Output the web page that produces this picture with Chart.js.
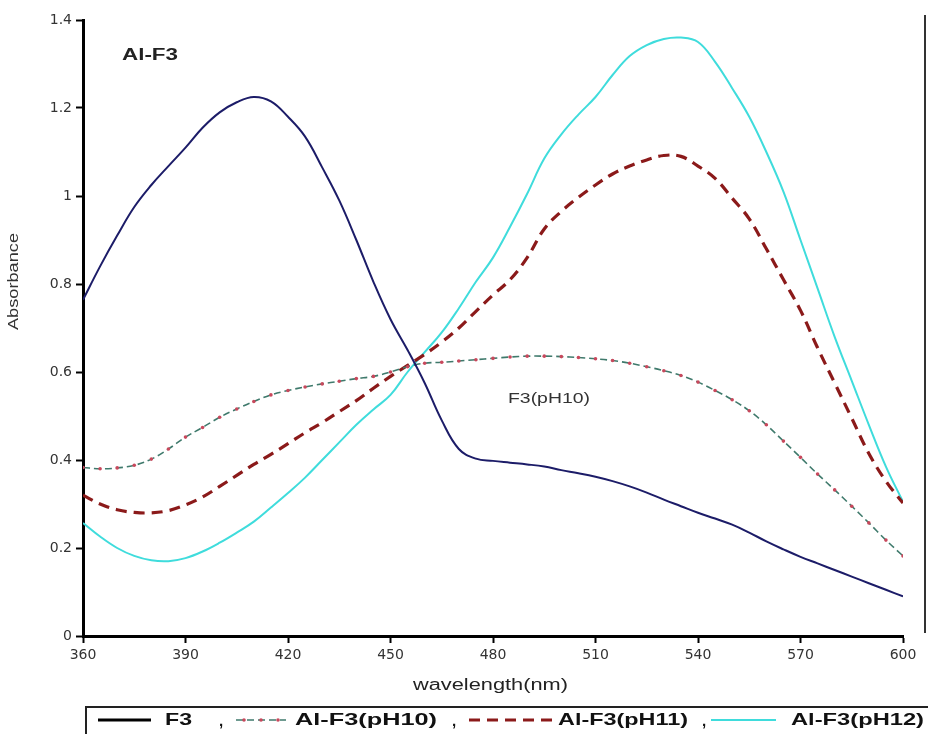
<!DOCTYPE html>
<html>
<head>
<meta charset="utf-8">
<script src="https://cdn.jsdelivr.net/npm/chart.js@4.4.0/dist/chart.umd.min.js"></script>
<style>
  html, body { margin: 0; padding: 0; background: #fff; }
  #wrap { width: 928px; height: 734px; position: relative; }
</style>
</head>
<body>
<div id="wrap"><canvas id="chart"></canvas></div>
<script>
// Wavelengths (nm), 5 nm steps
const wavelengths = [
  360, 365, 370, 375, 380, 385, 390, 395, 400, 405, 410, 415, 420, 425, 430, 435, 440,
  445, 450, 455, 460, 465, 470, 475, 480, 485, 490, 495, 500, 505, 510, 515, 520,
  525, 530, 535, 540, 545, 550, 555, 560, 565, 570, 575, 580, 585, 590, 595, 600
];

const f3 = [
  0.764, 0.84, 0.91, 0.975, 1.025, 1.068, 1.11, 1.155, 1.19, 1.213, 1.225, 1.215, 1.18, 1.135, 1.065, 0.99, 0.9,
  0.805, 0.72, 0.65, 0.575, 0.49, 0.425, 0.403, 0.398, 0.394, 0.39, 0.385, 0.377, 0.37, 0.362, 0.352, 0.34,
  0.326, 0.31, 0.295, 0.28, 0.267, 0.253, 0.235, 0.215, 0.197, 0.18, 0.165, 0.15, 0.135, 0.12, 0.105, 0.09
];

const alF3pH10 = [
  0.383, 0.38, 0.382, 0.388, 0.402, 0.425, 0.452, 0.474, 0.497, 0.516, 0.533, 0.548, 0.558, 0.566, 0.573, 0.579, 0.585,
  0.59, 0.6, 0.612, 0.62, 0.622, 0.625, 0.628, 0.631, 0.634, 0.636, 0.636, 0.635, 0.633, 0.63, 0.626, 0.62,
  0.612, 0.603, 0.592, 0.577, 0.558, 0.537, 0.512, 0.48, 0.443, 0.406, 0.368, 0.332, 0.295, 0.257, 0.218, 0.182
];

const alF3pH11 = [
  0.32, 0.3, 0.287, 0.281, 0.28, 0.285, 0.298, 0.316, 0.34, 0.365, 0.39, 0.413, 0.437, 0.462, 0.485, 0.51, 0.535,
  0.563, 0.59, 0.615, 0.64, 0.668, 0.7, 0.738, 0.775, 0.81, 0.86, 0.925, 0.965, 0.997, 1.025, 1.05, 1.068,
  1.082, 1.092, 1.09, 1.068, 1.04, 0.995, 0.948, 0.88, 0.81, 0.74, 0.655, 0.575, 0.495, 0.415, 0.352, 0.302
];

const alF3pH12 = [
  0.257, 0.226, 0.2, 0.182, 0.172, 0.17, 0.177, 0.192, 0.212, 0.235, 0.26, 0.292, 0.325, 0.36, 0.4, 0.44, 0.48,
  0.515, 0.548, 0.6, 0.645, 0.69, 0.745, 0.805, 0.86, 0.93, 1.005, 1.085, 1.14, 1.185, 1.225, 1.275, 1.318,
  1.343, 1.357, 1.36, 1.35, 1.305, 1.245, 1.18, 1.1, 1.01, 0.9, 0.79, 0.68, 0.58, 0.48, 0.385, 0.305
];

const seriesLabels = ["F3", "Al-F3(pH10)", "Al-F3(pH11)", "Al-F3(pH12)"];

const xMin = 360, xMax = 600, xStep = 30;
const yMin = 0, yMax = 1.4, yStep = 0.2;

function toPoints(values) {
  return values.map((v, i) => ({ x: wavelengths[i], y: v }));
}

// draw text stretched to a given width (the source picture is wide)
function wideText(ctx, text, left, midY, width, font, color) {
  ctx.save();
  ctx.font = font;
  ctx.fillStyle = color;
  ctx.textBaseline = "middle";
  ctx.textAlign = "left";
  const w = ctx.measureText(text).width;
  ctx.translate(left, midY);
  ctx.scale(width / w, 1);
  ctx.fillText(text, 0, 0);
  ctx.restore();
}

const extras = {
  id: "extras",
  afterDraw(chart) {
    const ctx = chart.ctx;
    const area = chart.chartArea;

    // right frame line
    ctx.save();
    ctx.strokeStyle = "#333";
    ctx.lineWidth = 2;
    ctx.beginPath();
    ctx.moveTo(925, 15);
    ctx.lineTo(925, area.bottom - 3);
    ctx.stroke();
    ctx.restore();

    // annotations
    wideText(ctx, "Al-F3", 122, 56, 56, "bold 16px 'Liberation Sans'", "#222");
    wideText(ctx, "F3(pH10)", 508, 399, 82, "14px 'Liberation Sans'", "#333");

    // axis titles
    wideText(ctx, "wavelength(nm)", 413, 686, 155, "16px 'Liberation Sans'", "#222");
    ctx.save();
    ctx.translate(14, 282);
    ctx.rotate(-Math.PI / 2);
    wideText(ctx, "Absorbance", -48, 0, 97, "15px 'Liberation Sans'", "#333");
    ctx.restore();

    // legend box
    ctx.save();
    ctx.strokeStyle = "#222";
    ctx.lineWidth = 2;
    ctx.beginPath();
    ctx.moveTo(86, 740);
    ctx.lineTo(86, 707);
    ctx.lineTo(928, 707);
    ctx.stroke();
    ctx.restore();

    const ds = chart.data.datasets;
    const ly = 720;
    const items = [
      { s: 98, e: 151, t: 165, tw: 27, c: 219 },
      { s: 236, e: 286, t: 295, tw: 142, c: 452 },
      { s: 469, e: 555, t: 558, tw: 130, c: 702 },
      { s: 711, e: 776, t: 791, tw: 133, c: null }
    ];
    items.forEach((it, i) => {
      const d = ds[i];
      ctx.save();
      ctx.strokeStyle = i === 0 ? "#000" : d.borderColor;
      ctx.lineWidth = i === 0 ? 3 : d.borderWidth;
      ctx.setLineDash(d.borderDash || []);
      ctx.beginPath();
      ctx.moveTo(it.s, ly);
      ctx.lineTo(it.e, ly);
      ctx.stroke();
      ctx.setLineDash([]);
      if (d.pointRadius > 0) {
        ctx.fillStyle = d.pointBackgroundColor;
        [it.s + 8, it.s + 25, it.s + 42].forEach(px => {
          ctx.beginPath();
          ctx.arc(px, ly, 1.8, 0, Math.PI * 2);
          ctx.fill();
        });
      }
      ctx.restore();
      wideText(ctx, d.label, it.t, ly, it.tw, "bold 17px 'Liberation Sans'", "#111");
      if (it.c !== null) {
        ctx.save();
        ctx.font = "bold 15px 'Liberation Sans'";
        ctx.fillStyle = "#111";
        ctx.textBaseline = "middle";
        ctx.fillText(",", it.c, ly + 2);
        ctx.restore();
      }
    });
  }
};

const tickFont = { family: "'DejaVu Sans', 'Liberation Sans'", size: 14 };

new Chart(document.getElementById("chart"), {
  type: "line",
  data: {
    datasets: [
      {
        label: seriesLabels[0],
        data: toPoints(f3),
        borderColor: "#1c1c68",
        borderWidth: 2,
        pointRadius: 0,
        tension: 0.4
      },
      {
        label: seriesLabels[1],
        data: toPoints(alF3pH10),
        borderColor: "#3f7a6c",
        borderWidth: 1.6,
        borderDash: [7, 4],
        pointRadius: 1.8,
        pointBackgroundColor: "#c8485c",
        pointBorderColor: "#c8485c",
        pointBorderWidth: 0,
        tension: 0.4
      },
      {
        label: seriesLabels[2],
        data: toPoints(alF3pH11),
        borderColor: "#8b1a1a",
        borderWidth: 3.2,
        borderDash: [11, 7],
        pointRadius: 0,
        tension: 0.4
      },
      {
        label: seriesLabels[3],
        data: toPoints(alF3pH12),
        borderColor: "#3fdcdc",
        borderWidth: 2,
        pointRadius: 0,
        tension: 0.4
      }
    ]
  },
  options: {
    responsive: true,
    maintainAspectRatio: false,
    animation: false,
    events: [],
    layout: { padding: { top: 20, right: 25, left: 0, bottom: 0 } },
    plugins: {
      legend: { display: false },
      tooltip: { enabled: false }
    },
    scales: {
      x: {
        type: "linear",
        min: xMin,
        max: xMax,
        afterFit: s => { s.height = 98; },
        ticks: { stepSize: xStep, color: "#333", font: tickFont, padding: 4 },
        grid: { drawOnChartArea: false, drawTicks: true, tickLength: 7, tickWidth: 2, tickColor: "#000" },
        border: { display: true, color: "#000", width: 3 }
      },
      y: {
        min: yMin,
        max: yMax,
        afterFit: s => { s.width = 83; },
        ticks: {
          stepSize: yStep,
          color: "#333",
          font: tickFont,
          padding: 4,
          callback: v => String(Number(v.toFixed(1)))
        },
        grid: { drawOnChartArea: false, drawTicks: true, tickLength: 7, tickWidth: 2, tickColor: "#000" },
        border: { display: true, color: "#000", width: 3 }
      }
    }
  },
  plugins: [extras]
});
</script>
</body>
</html>
